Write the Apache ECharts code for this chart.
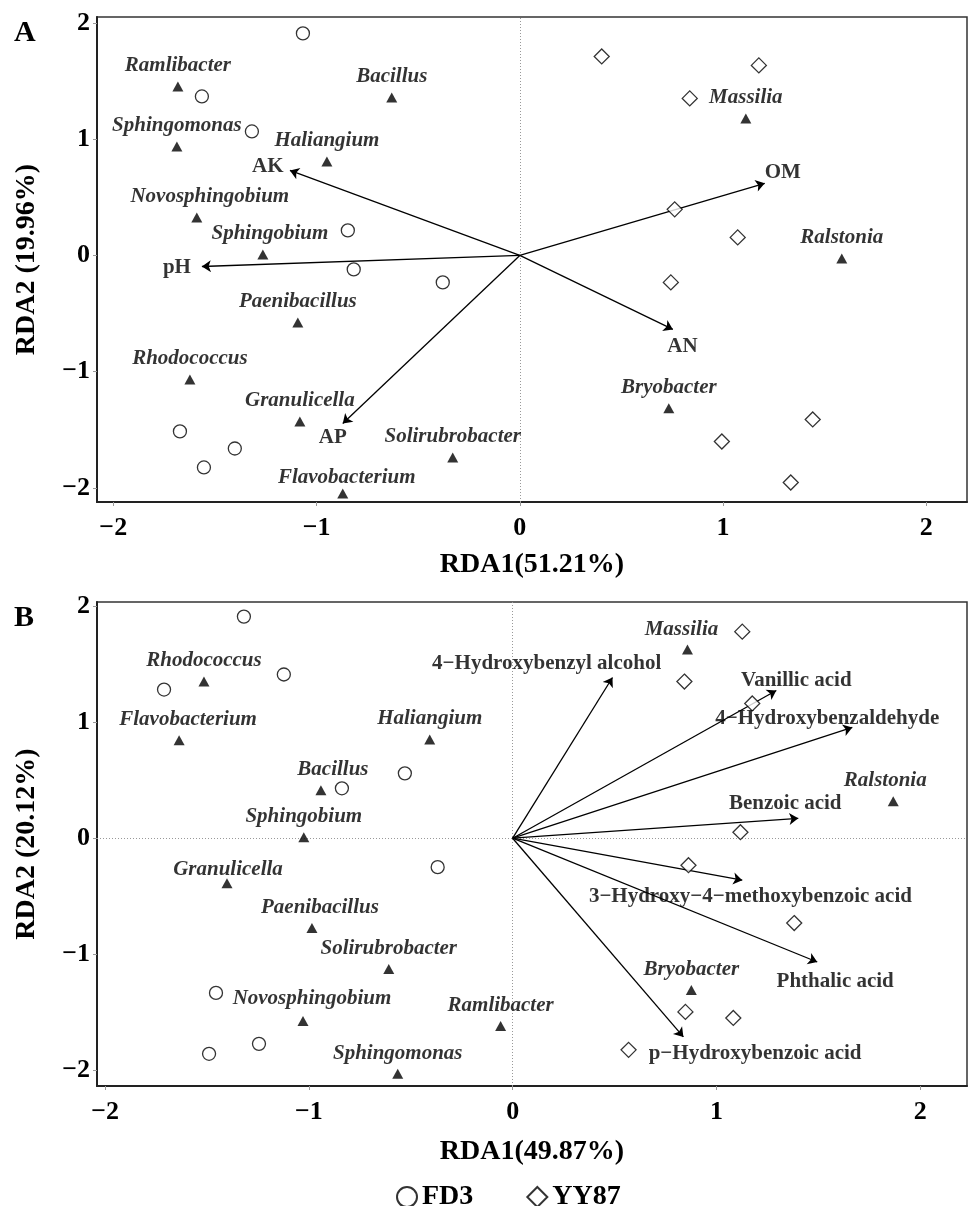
<!DOCTYPE html>
<html>
<head>
<meta charset="utf-8">
<title>RDA biplots</title>
<script src="https://cdn.jsdelivr.net/npm/echarts@6/dist/echarts.min.js"></script>
<style>
  html, body { margin: 0; padding: 0; background: #fff; }
  #main { width: 968px; height: 1206px; }
</style>
</head>
<body>
<div id="main"></div>
<script>
// ---------- data ----------
const axisTicks = [-2, -1, 0, 1, 2];

// panel A
const aXName = "RDA1(51.21%)";
const aYName = "RDA2 (19.96%)";
const aFD3 = [[-1.067, 1.909], [-1.564, 1.367], [-1.318, 1.066], [-0.846, 0.215], [-0.817, -0.12],
  [-0.379, -0.232], [-1.672, -1.513], [-1.554, -1.823], [-1.402, -1.66]];
const aYY87 = [[0.403, 1.711], [1.176, 1.634], [0.836, 1.35], [0.762, 0.396], [1.072, 0.155],
  [0.743, -0.232], [1.441, -1.41], [0.994, -1.6], [1.333, -1.952]];
const aGenera = ["Ramlibacter", "Bacillus", "Sphingomonas", "Haliangium", "Novosphingobium", "Sphingobium",
  "Massilia", "Ralstonia", "Paenibacillus", "Rhodococcus", "Granulicella", "Flavobacterium",
  "Solirubrobacter", "Bryobacter"];
const aGenusXY = [[-1.682, 1.453], [-0.63, 1.358], [-1.687, 0.937], [-0.949, 0.808], [-1.589, 0.327],
  [-1.264, 0.009], [1.112, 1.178], [1.584, -0.026], [-1.092, -0.576], [-1.623, -1.066],
  [-1.082, -1.427], [-0.871, -2.047], [-0.33, -1.737], [0.733, -1.315]];
const aEnv = ["AK", "pH", "AP", "OM", "AN"];
const aEnvTip = [[-1.131, 0.731], [-1.564, -0.095], [-0.871, -1.445], [1.205, 0.62], [0.753, -0.636]];
const aEnvLabelAt = [[-1.24, 0.765], [-1.687, -0.103], [-0.92, -1.57], [1.294, 0.714], [0.8, -0.78]];

// panel B
const bXName = "RDA1(49.87%)";
const bYName = "RDA2 (20.12%)";
const bFD3 = [[-1.319, 1.914], [-1.711, 1.284], [-1.123, 1.414], [-0.838, 0.431], [-0.529, 0.56],
  [-0.368, -0.25], [-1.456, -1.336], [-1.49, -1.862], [-1.245, -1.776]];
const bYY87 = [[1.127, 1.784], [0.843, 1.353], [1.176, 1.164], [1.118, 0.052], [0.863, -0.233],
  [1.382, -0.733], [0.848, -1.5], [1.083, -1.552], [0.569, -1.828]];
const bGenera = ["Rhodococcus", "Flavobacterium", "Haliangium", "Bacillus", "Sphingobium", "Granulicella",
  "Massilia", "Ralstonia", "Paenibacillus", "Solirubrobacter", "Novosphingobium", "Ramlibacter",
  "Sphingomonas", "Bryobacter"];
const bGenusXY = [[-1.515, 1.353], [-1.637, 0.845], [-0.407, 0.853], [-0.941, 0.414], [-1.025, 0.009],
  [-1.402, -0.388], [0.858, 1.629], [1.868, 0.319], [-0.985, -0.776], [-0.608, -1.129],
  [-1.029, -1.578], [-0.059, -1.621], [-0.564, -2.034], [0.877, -1.31]];
const bEnv = ["4\u2212Hydroxybenzyl alcohol", "Vanillic acid", "4\u2212Hydroxybenzaldehyde", "Benzoic acid",
  "3\u2212Hydroxy\u22124\u2212methoxybenzoic acid", "Phthalic acid", "p\u2212Hydroxybenzoic acid"];
const bEnvTip = [[0.49, 1.388], [1.294, 1.276], [1.667, 0.957], [1.402, 0.172], [1.127, -0.362],
  [1.495, -1.069], [0.838, -1.716]];
const bEnvLabelAt = [[0.167, 1.509], [1.392, 1.362], [1.544, 1.034], [1.338, 0.302], [1.167, -0.5],
  [1.583, -1.241], [1.19, -1.862]];

// ---------- styling ----------
const FONT = "Liberation Serif";
// small pixel nudges for genus labels that are not centred over their marker
const labelNudge = {
  A: { Novosphingobium: [13, 0], Sphingobium: [7, 0], Flavobacterium: [4, 5] },
  B: { Flavobacterium: [9, 0], Bacillus: [12, 0], Paenibacillus: [8, 0], Novosphingobium: [9, -2],
       Granulicella: [1, 7], Ralstonia: [-8, 0], Massilia: [-6, 0] }
};

function fmtTick(v) {
  return v < 0 ? "\u2212" + Math.abs(v) : String(v);
}

function makeAxes(idx, xName, yName, xr, yr, xGap) {
  const common = {
    gridIndex: idx,
    type: "value",
    nameLocation: "middle",
    nameTextStyle: { fontFamily: FONT, fontWeight: "bold", fontSize: 28, color: "#000" },
    axisLine: { show: true, onZero: false, lineStyle: { color: "#222", width: 2 } },
    axisTick: { show: true, length: 4, lineStyle: { color: "#999", width: 1 }, customValues: axisTicks },
    axisLabel: {
      fontFamily: FONT, fontWeight: "bold", fontSize: 26, color: "#000",
      customValues: axisTicks, formatter: fmtTick
    },
    splitLine: { show: false }
  };
  const x = Object.assign({}, common, { name: xName, nameGap: xGap, min: xr[0], max: xr[1] });
  x.axisLabel = Object.assign({}, common.axisLabel, { margin: 13 });
  const y = Object.assign({}, common, { name: yName, nameGap: 56, min: yr[0], max: yr[1] });
  y.axisLabel = Object.assign({}, common.axisLabel, { margin: 7 });
  return [x, y];
}

function makeSeries(idx, panel, fd3, yy87, genera, genusXY, envNames, envTip, envLabelAt, hLineEnd) {
  const zeroLines = [
    hLineEnd == null ? { yAxis: 0 } : [{ coord: [-3, 0] }, { coord: [hLineEnd, 0] }],
    { xAxis: 0 }
  ];
  const nudge = labelNudge[panel];
  return [
    {
      name: "FD3", type: "scatter", xAxisIndex: idx, yAxisIndex: idx,
      symbol: "circle", symbolSize: 13, z: 5,
      itemStyle: { color: "#fff", borderColor: "#000", borderWidth: 1.3 },
      data: fd3,
      markLine: {
        silent: true, symbol: ["none", "none"], label: { show: false }, z: 1,
        lineStyle: { type: [1, 2], color: "#999", width: 1 },
        data: zeroLines
      }
    },
    {
      name: "YY87", type: "scatter", xAxisIndex: idx, yAxisIndex: idx,
      symbol: "diamond", symbolSize: 15, z: 5,
      itemStyle: { color: "#fff", borderColor: "#000", borderWidth: 1.3 },
      data: yy87
    },
    {
      name: "genus", type: "scatter", xAxisIndex: idx, yAxisIndex: idx,
      symbol: "triangle", symbolSize: [11, 10], z: 6,
      itemStyle: { color: "#000" },
      label: {
        show: true, position: "top", distance: 5,
        fontFamily: FONT, fontWeight: "bold", fontStyle: "italic", fontSize: 21, color: "#000",
        formatter: p => p.name
      },
      data: genera.map((g, i) => {
        const n = nudge[g];
        const item = { name: g, value: genusXY[i] };
        if (n) item.label = { offset: n };
        return item;
      })
    },
    {
      name: "arrows", type: "lines", coordinateSystem: "cartesian2d", xAxisIndex: idx, yAxisIndex: idx,
      symbol: ["none", "arrow"], symbolSize: [7, 9], z: 4,
      lineStyle: { color: "#000", width: 1.3, opacity: 1 },
      data: envTip.map(t => ({ coords: [[0, 0], t] }))
    },
    {
      name: "envLabels", type: "scatter", xAxisIndex: idx, yAxisIndex: idx,
      symbolSize: 0, z: 7, silent: true,
      label: {
        show: true, position: "inside",
        fontFamily: FONT, fontWeight: "bold", fontSize: 21, color: "#000",
        formatter: p => p.name
      },
      data: envNames.map((e, i) => ({ name: e, value: envLabelAt[i] }))
    }
  ];
}

const axA = makeAxes(0, aXName, aYName, [-2.08, 2.2], [-2.12, 2.05], 49);
const axB = makeAxes(1, bXName, bYName, [-2.04, 2.23], [-2.14, 2.04], 52);

const chart = echarts.init(document.getElementById("main"), null, { renderer: "canvas" });
chart.setOption({
  animation: false,
  backgroundColor: "#fff",
  title: [
    { text: "A", left: 9, top: 13, padding: 5, textStyle: { fontFamily: FONT, fontWeight: "bold", fontSize: 30, color: "#000" } },
    { text: "B", left: 9, top: 598, padding: 5, textStyle: { fontFamily: FONT, fontWeight: "bold", fontSize: 30, color: "#000" } }
  ],
  grid: [
    { left: 97, top: 17, width: 870, height: 485, show: true, borderColor: "#333", borderWidth: 1.5, backgroundColor: "transparent" },
    { left: 97, top: 602, width: 870, height: 484, show: true, borderColor: "#333", borderWidth: 1.5, backgroundColor: "transparent" }
  ],
  xAxis: [axA[0], axB[0]],
  yAxis: [axA[1], axB[1]],
  legend: {
    data: ["FD3", "YY87"],
    left: 391, top: 1178,
    itemWidth: 20, itemHeight: 20, itemGap: 53,
    textStyle: { fontFamily: FONT, fontWeight: "bold", fontSize: 28, color: "#000" }
  },
  series: [].concat(
    makeSeries(0, "A", aFD3, aYY87, aGenera, aGenusXY, aEnv, aEnvTip, aEnvLabelAt, 1.85),
    makeSeries(1, "B", bFD3, bYY87, bGenera, bGenusXY, bEnv, bEnvTip, bEnvLabelAt, null)
  )
});
</script>
</body>
</html>
